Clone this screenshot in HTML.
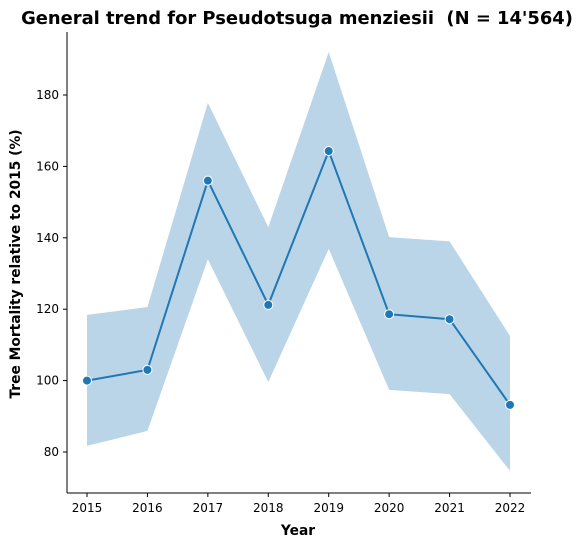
<!DOCTYPE html>
<html><head><meta charset="utf-8"><style>
html,body{margin:0;padding:0;background:#fff;}
svg{display:block;font-family:"DejaVu Sans","Liberation Sans",sans-serif;}
</style></head><body>
<svg id="chart" width="585" height="547" viewBox="0 0 585 547" xmlns="http://www.w3.org/2000/svg">
<text x="297" y="24" text-anchor="middle" font-size="17.9" font-weight="bold">General trend for Pseudotsuga menziesii &#160;(N = 14'564)</text>
<g id="plot"></g>
<text x="298" y="535" text-anchor="middle" font-size="13.8" font-weight="bold">Year</text>
<text transform="translate(20,264) rotate(-90)" text-anchor="middle" font-size="13.8" font-weight="bold">Tree Mortality relative to 2015 (%)</text>
</svg>
<script>
const years = [2015,2016,2017,2018,2019,2020,2021,2022];
const meanValues = [100,103,156,121.2,164.3,118.6,117.2,93.2];
const upperCI = [118.4,120.6,177.8,143,192,140.2,139,112.5];
const lowerCI = [81.7,85.9,134,99.6,136.9,97.4,96.2,74.7];
const yTicks = [80,100,120,140,160,180];

const NS="http://www.w3.org/2000/svg";
const g=document.getElementById('plot');
const x=v=>87+(v-2015)*(510-87)/7;
const y=v=>452-(v-80)*3.57;
function mk(t,a){const e=document.createElementNS(NS,t);for(const k in a)e.setAttribute(k,a[k]);g.appendChild(e);return e;}

let d='M'+years.map((yr,i)=>x(yr)+','+y(upperCI[i])).join('L');
for(let i=years.length-1;i>=0;i--)d+='L'+x(years[i])+','+y(lowerCI[i]);
const band=mk('path',{d:d+'Z',fill:'#1f77b4','fill-opacity':0.31,stroke:'none'});



const line=mk('polyline',{points:years.map((yr,i)=>x(yr)+','+y(meanValues[i])).join(' '),fill:'none',stroke:'#1f77b4','stroke-width':2});



years.forEach((yr,i)=>{
  const c=mk('circle',{cx:x(yr),cy:y(meanValues[i]),r:4.5,fill:'#1f77b4',stroke:'#fff','stroke-width':1});
  
  
});

const ys=mk('line',{x1:67,y1:32,x2:67,y2:493,stroke:'#000','stroke-width':1});


const xs=mk('line',{x1:67,y1:493,x2:531,y2:493,stroke:'#000','stroke-width':1});



years.forEach(yr=>{
  mk('line',{x1:x(yr),y1:493,x2:x(yr),y2:497,stroke:'#000'});
  const t=mk('text',{x:x(yr),y:512,'text-anchor':'middle','font-size':12});
  t.textContent=yr;
  
  
});
yTicks.forEach(v=>{
  mk('line',{x1:63,y1:y(v),x2:67,y2:y(v),stroke:'#000'});
  const t=mk('text',{x:59,y:y(v)+4,'text-anchor':'end','font-size':12});
  t.textContent=v;
  
  
});
</script>
</body></html>
